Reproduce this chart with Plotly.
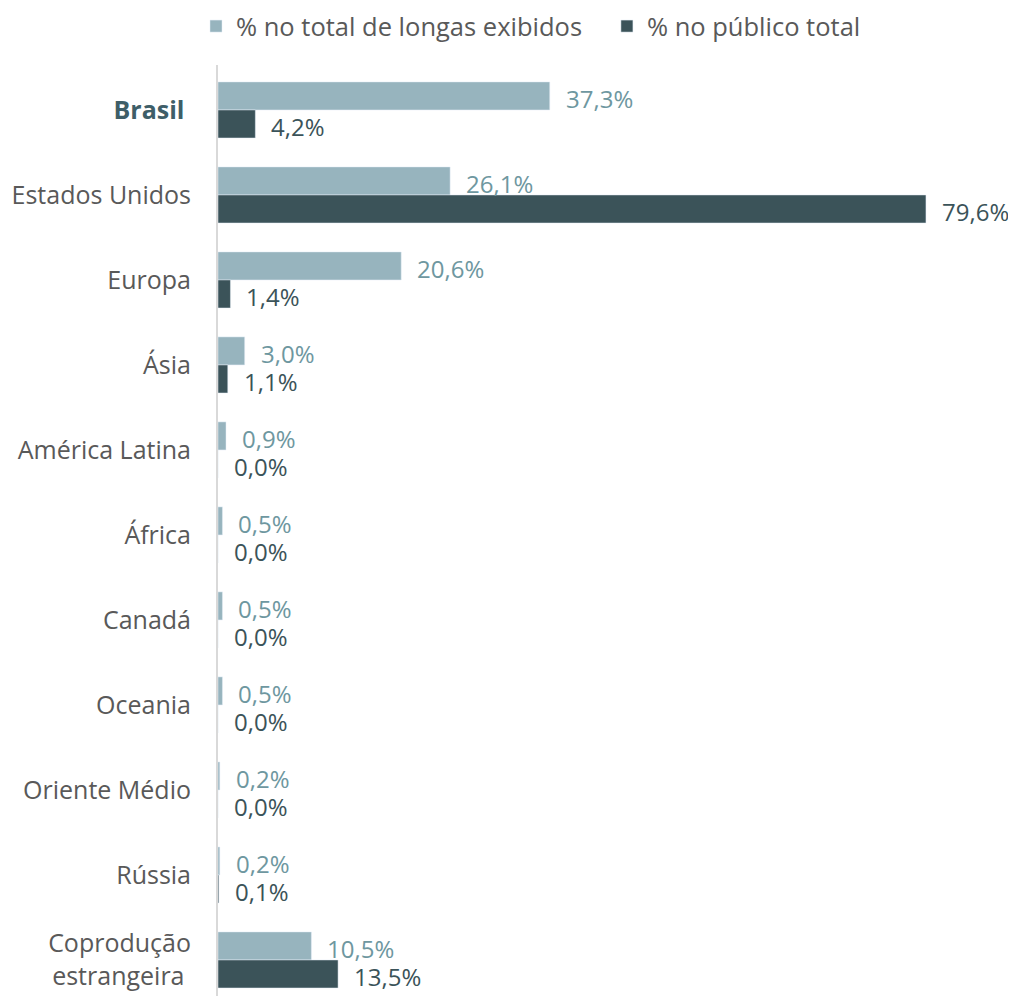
import plotly.graph_objects as go

categories = ["Brasil", "Estados Unidos", "Europa", "Ásia", "América Latina", "África",
              "Canadá", "Oceania", "Oriente Médio", "Rússia", "Coprodução estrangeira"]
tick_labels = ["<b><span style='color:#3E5E68'>Brasil</span></b>\u00a0", "Estados Unidos", "Europa", "Ásia",
               "América Latina", "África", "Canadá", "Oceania", "Oriente Médio", "Rússia",
               "Coprodução<br>estrangeira\u00a0"]
longas = [37.3, 26.1, 20.6, 3.0, 0.9, 0.5, 0.5, 0.5, 0.2, 0.2, 10.5]
publico = [4.2, 79.6, 1.4, 1.1, 0.0, 0.0, 0.0, 0.0, 0.0, 0.1, 13.5]
series_names = ["% no total de longas exibidos\u00a0\u00a0\u00a0", "% no público total"]

LIGHT = "#97B4BE"
DARK = "#3B5359"
LIGHT_TXT = "#6E97A0"
DARK_TXT = "#3B5359"
FONT = "Open Sans"

def fmt(v):
    return f"{v:.1f}".replace(".", ",") + "%"

fig = go.Figure()
fig.add_trace(go.Bar(y=categories, x=longas, orientation="h", name=series_names[0],
                     marker=dict(color=LIGHT), hoverinfo="x+y"))
fig.add_trace(go.Bar(y=categories, x=publico, orientation="h", name=series_names[1],
                     marker=dict(color=DARK), hoverinfo="x+y"))

annotations = []
for c, v in zip(categories, longas):
    annotations.append(dict(x=v, y=c, xref="x", yref="y", text=fmt(v), showarrow=False,
                            xanchor="left", yanchor="middle", xshift=14, yshift=11,
                            font=dict(family=FONT, size=24, color=LIGHT_TXT)))
for c, v in zip(categories, publico):
    annotations.append(dict(x=v, y=c, xref="x", yref="y", text=fmt(v), showarrow=False,
                            xanchor="left", yanchor="middle", xshift=14, yshift=-17,
                            font=dict(family=FONT, size=24, color=DARK_TXT)))

fig.update_layout(
    width=1008, height=988,
    margin=dict(l=210, r=10, t=57, b=0, autoexpand=False),
    paper_bgcolor="white", plot_bgcolor="white",
    font=dict(family=FONT, size=24, color="#595959"),
    barmode="group", bargap=0.34, bargroupgap=0,
    showlegend=True,
    legend=dict(orientation="h", x=188 / 1008, xref="container", y=1 + 62 / 931, yref="paper",
                yanchor="top", xanchor="left", font=dict(size=25.5, color="#595959"),
                itemwidth=30, traceorder="normal"),
    annotations=annotations,
)
fig.update_xaxes(range=[0, 788 / 8.894], showgrid=False, showticklabels=False,
                 zeroline=False, showline=False)
fig.update_yaxes(categoryorder="array", categoryarray=categories,
                 tickmode="array", tickvals=categories, ticktext=tick_labels,
                 range=[10.424, -0.529], showgrid=False, zeroline=False,
                 showline=True, linecolor="#D9D9D9", linewidth=2,
                 ticks="", ticklabelstandoff=20, tickfont=dict(size=25, color="#595959"))

fig.write_html("out.html")
